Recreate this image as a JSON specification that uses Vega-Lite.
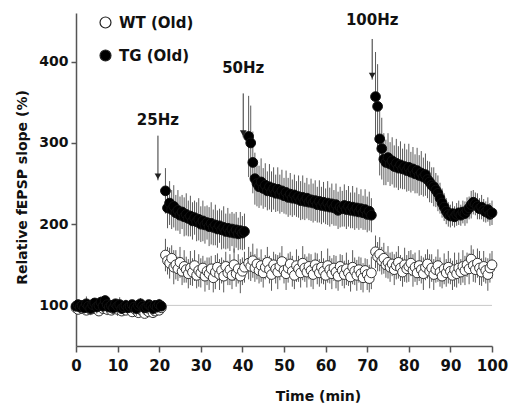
{
"$schema":"https://vega.github.io/schema/vega-lite/v6.json",
"width":416,"height":333,
"autosize":{"type":"none"},
"padding":{"left":76,"top":13,"right":21,"bottom":63},
"background":"white",
"config":{
"view":{"stroke":null},
"font":"DejaVu Sans",
"axis":{"grid":false,"domainColor":"#555","domainWidth":1.5,"tickColor":"#555","tickWidth":1.5,"tickSize":6,"labelFont":"DejaVu Sans","labelFontWeight":"bold","labelColor":"#111","labelOverlap":false,"labelFlush":false,"labelBound":false,"titleFont":"DejaVu Sans","titleFontWeight":"bold","titleFontSize":14,"titleColor":"#111"}
},
"datasets":{
"ltp":[
{"t":0,"w":97,"we":6,"g":99,"ge":7},
{"t":0.5,"w":95,"we":5,"g":101,"ge":6},
{"t":1,"w":98,"we":7,"g":98,"ge":8},
{"t":1.5,"w":96,"we":6,"g":100,"ge":5},
{"t":2,"w":99,"we":8,"g":97,"ge":7},
{"t":2.5,"w":94,"we":5,"g":102,"ge":9},
{"t":3,"w":97,"we":6,"g":99,"ge":6},
{"t":3.5,"w":95,"we":7,"g":96,"ge":7},
{"t":4,"w":98,"we":6,"g":101,"ge":7},
{"t":4.5,"w":96,"we":5,"g":103,"ge":6},
{"t":5,"w":97,"we":7,"g":98,"ge":8},
{"t":5.5,"w":93,"we":6,"g":100,"ge":5},
{"t":6,"w":99,"we":8,"g":104,"ge":7},
{"t":6.5,"w":96,"we":5,"g":99,"ge":9},
{"t":7,"w":98,"we":6,"g":106,"ge":6},
{"t":7.5,"w":95,"we":7,"g":101,"ge":7},
{"t":8,"w":97,"we":6,"g":98,"ge":7},
{"t":8.5,"w":94,"we":5,"g":100,"ge":6},
{"t":9,"w":96,"we":7,"g":97,"ge":8},
{"t":9.5,"w":98,"we":6,"g":102,"ge":5},
{"t":10,"w":95,"we":8,"g":99,"ge":7},
{"t":10.5,"w":97,"we":5,"g":101,"ge":9},
{"t":11,"w":93,"we":6,"g":96,"ge":6},
{"t":11.5,"w":96,"we":7,"g":98,"ge":7},
{"t":12,"w":94,"we":6,"g":100,"ge":7},
{"t":12.5,"w":97,"we":5,"g":97,"ge":6},
{"t":13,"w":95,"we":7,"g":99,"ge":8},
{"t":13.5,"w":92,"we":6,"g":101,"ge":5},
{"t":14,"w":96,"we":8,"g":98,"ge":7},
{"t":14.5,"w":94,"we":5,"g":96,"ge":9},
{"t":15,"w":91,"we":6,"g":100,"ge":6},
{"t":15.5,"w":95,"we":7,"g":102,"ge":7},
{"t":16,"w":93,"we":6,"g":99,"ge":7},
{"t":16.5,"w":90,"we":5,"g":97,"ge":6},
{"t":17,"w":94,"we":7,"g":98,"ge":8},
{"t":17.5,"w":92,"we":6,"g":101,"ge":5},
{"t":18,"w":95,"we":8,"g":99,"ge":7},
{"t":18.5,"w":91,"we":5,"g":96,"ge":9},
{"t":19,"w":93,"we":6,"g":100,"ge":6},
{"t":19.5,"w":96,"we":7,"g":98,"ge":7},
{"t":20,"w":94,"we":6,"g":101,"ge":7},
{"t":20.5,"w":97,"we":5,"g":99,"ge":6},
{"t":21.5,"w":162,"we":20,"g":241,"ge":28},
{"t":22,"w":155,"we":17,"g":220,"ge":25},
{"t":22.5,"w":152,"we":19,"g":226,"ge":27},
{"t":23,"w":158,"we":16,"g":218,"ge":24},
{"t":23.5,"w":147,"we":21,"g":222,"ge":26},
{"t":24,"w":150,"we":18,"g":214,"ge":22},
{"t":24.5,"w":145,"we":15,"g":217,"ge":25},
{"t":25,"w":153,"we":19,"g":211,"ge":23},
{"t":25.5,"w":142,"we":17,"g":215,"ge":21},
{"t":26,"w":148,"we":20,"g":209,"ge":24},
{"t":26.5,"w":144,"we":16,"g":212,"ge":26},
{"t":27,"w":139,"we":18,"g":207,"ge":22},
{"t":27.5,"w":146,"we":21,"g":210,"ge":25},
{"t":28,"w":141,"we":17,"g":204,"ge":23},
{"t":28.5,"w":149,"we":19,"g":208,"ge":21},
{"t":29,"w":137,"we":16,"g":203,"ge":24},
{"t":29.5,"w":143,"we":20,"g":206,"ge":26},
{"t":30,"w":140,"we":18,"g":200,"ge":22},
{"t":30.5,"w":146,"we":15,"g":204,"ge":25},
{"t":31,"w":136,"we":19,"g":199,"ge":23},
{"t":31.5,"w":142,"we":17,"g":202,"ge":21},
{"t":32,"w":139,"we":20,"g":197,"ge":24},
{"t":32.5,"w":145,"we":16,"g":201,"ge":26},
{"t":33,"w":134,"we":18,"g":196,"ge":22},
{"t":33.5,"w":141,"we":21,"g":199,"ge":25},
{"t":34,"w":147,"we":17,"g":194,"ge":23},
{"t":34.5,"w":138,"we":19,"g":198,"ge":21},
{"t":35,"w":143,"we":16,"g":193,"ge":24},
{"t":35.5,"w":136,"we":20,"g":196,"ge":26},
{"t":36,"w":148,"we":18,"g":191,"ge":22},
{"t":36.5,"w":140,"we":15,"g":195,"ge":25},
{"t":37,"w":144,"we":19,"g":190,"ge":23},
{"t":37.5,"w":137,"we":17,"g":194,"ge":21},
{"t":38,"w":150,"we":20,"g":189,"ge":24},
{"t":38.5,"w":139,"we":16,"g":193,"ge":22},
{"t":39,"w":145,"we":18,"g":188,"ge":20},
{"t":39.5,"w":136,"we":21,"g":192,"ge":23},
{"t":40,"w":142,"we":17,"g":189,"ge":21},
{"t":40.5,"w":147,"we":19,"g":191,"ge":22},
{"t":41.5,"w":152,"we":20,"g":308,"ge":50},
{"t":42,"w":148,"we":18,"g":300,"ge":46},
{"t":42.5,"w":155,"we":21,"g":276,"ge":38},
{"t":43,"w":146,"we":17,"g":256,"ge":32},
{"t":43.5,"w":151,"we":19,"g":250,"ge":28},
{"t":44,"w":143,"we":16,"g":246,"ge":26},
{"t":44.5,"w":149,"we":20,"g":252,"ge":29},
{"t":45,"w":140,"we":18,"g":244,"ge":25},
{"t":45.5,"w":147,"we":15,"g":248,"ge":27},
{"t":46,"w":153,"we":19,"g":241,"ge":24},
{"t":46.5,"w":144,"we":17,"g":246,"ge":28},
{"t":47,"w":138,"we":20,"g":240,"ge":25},
{"t":47.5,"w":150,"we":16,"g":244,"ge":26},
{"t":48,"w":145,"we":18,"g":238,"ge":23},
{"t":48.5,"w":141,"we":21,"g":243,"ge":27},
{"t":49,"w":148,"we":17,"g":237,"ge":24},
{"t":49.5,"w":154,"we":19,"g":241,"ge":26},
{"t":50,"w":143,"we":16,"g":235,"ge":22},
{"t":50.5,"w":139,"we":20,"g":239,"ge":27},
{"t":51,"w":146,"we":18,"g":233,"ge":24},
{"t":51.5,"w":151,"we":15,"g":237,"ge":26},
{"t":52,"w":142,"we":19,"g":232,"ge":23},
{"t":52.5,"w":137,"we":17,"g":236,"ge":25},
{"t":53,"w":149,"we":20,"g":231,"ge":22},
{"t":53.5,"w":145,"we":16,"g":234,"ge":26},
{"t":54,"w":140,"we":18,"g":229,"ge":24},
{"t":54.5,"w":152,"we":21,"g":233,"ge":27},
{"t":55,"w":146,"we":17,"g":228,"ge":23},
{"t":55.5,"w":141,"we":19,"g":232,"ge":25},
{"t":56,"w":148,"we":16,"g":227,"ge":22},
{"t":56.5,"w":143,"we":20,"g":230,"ge":26},
{"t":57,"w":138,"we":18,"g":226,"ge":24},
{"t":57.5,"w":150,"we":15,"g":229,"ge":25},
{"t":58,"w":145,"we":19,"g":224,"ge":22},
{"t":58.5,"w":140,"we":17,"g":228,"ge":26},
{"t":59,"w":147,"we":20,"g":223,"ge":23},
{"t":59.5,"w":142,"we":16,"g":227,"ge":25},
{"t":60,"w":137,"we":18,"g":222,"ge":22},
{"t":60.5,"w":149,"we":21,"g":226,"ge":27},
{"t":61,"w":144,"we":17,"g":221,"ge":24},
{"t":61.5,"w":139,"we":19,"g":225,"ge":25},
{"t":62,"w":146,"we":16,"g":220,"ge":22},
{"t":62.5,"w":141,"we":20,"g":224,"ge":26},
{"t":63,"w":136,"we":18,"g":217,"ge":23},
{"t":63.5,"w":148,"we":15,"g":221,"ge":25},
{"t":64,"w":143,"we":19,"g":219,"ge":22},
{"t":64.5,"w":138,"we":17,"g":223,"ge":26},
{"t":65,"w":145,"we":20,"g":218,"ge":24},
{"t":65.5,"w":140,"we":16,"g":222,"ge":25},
{"t":66,"w":135,"we":18,"g":217,"ge":22},
{"t":66.5,"w":147,"we":21,"g":221,"ge":26},
{"t":67,"w":142,"we":17,"g":216,"ge":23},
{"t":67.5,"w":137,"we":19,"g":220,"ge":25},
{"t":68,"w":144,"we":16,"g":215,"ge":22},
{"t":68.5,"w":139,"we":20,"g":219,"ge":24},
{"t":69,"w":134,"we":18,"g":214,"ge":21},
{"t":69.5,"w":143,"we":15,"g":218,"ge":25},
{"t":70,"w":138,"we":19,"g":212,"ge":22},
{"t":70.5,"w":133,"we":17,"g":216,"ge":24},
{"t":71,"w":140,"we":20,"g":211,"ge":21},
{"t":72,"w":166,"we":20,"g":357,"ge":55},
{"t":72.5,"w":160,"we":18,"g":345,"ge":52},
{"t":73,"w":163,"we":21,"g":305,"ge":45},
{"t":73.5,"w":155,"we":17,"g":293,"ge":38},
{"t":74,"w":158,"we":19,"g":280,"ge":32},
{"t":74.5,"w":150,"we":16,"g":276,"ge":28},
{"t":75,"w":153,"we":20,"g":282,"ge":30},
{"t":75.5,"w":147,"we":18,"g":274,"ge":27},
{"t":76,"w":151,"we":15,"g":278,"ge":29},
{"t":76.5,"w":144,"we":19,"g":271,"ge":26},
{"t":77,"w":149,"we":17,"g":275,"ge":30},
{"t":77.5,"w":153,"we":20,"g":269,"ge":27},
{"t":78,"w":146,"we":16,"g":273,"ge":29},
{"t":78.5,"w":141,"we":18,"g":268,"ge":25},
{"t":79,"w":150,"we":21,"g":271,"ge":28},
{"t":79.5,"w":145,"we":17,"g":266,"ge":26},
{"t":80,"w":148,"we":19,"g":270,"ge":29},
{"t":80.5,"w":152,"we":16,"g":264,"ge":25},
{"t":81,"w":143,"we":20,"g":268,"ge":27},
{"t":81.5,"w":147,"we":18,"g":262,"ge":24},
{"t":82,"w":140,"we":15,"g":266,"ge":28},
{"t":82.5,"w":149,"we":19,"g":260,"ge":25},
{"t":83,"w":144,"we":17,"g":263,"ge":27},
{"t":83.5,"w":139,"we":20,"g":258,"ge":24},
{"t":84,"w":147,"we":16,"g":261,"ge":26},
{"t":84.5,"w":151,"we":18,"g":255,"ge":23},
{"t":85,"w":142,"we":21,"g":252,"ge":25},
{"t":85.5,"w":146,"we":17,"g":248,"ge":22},
{"t":86,"w":138,"we":19,"g":246,"ge":24},
{"t":86.5,"w":144,"we":16,"g":242,"ge":21},
{"t":87,"w":149,"we":20,"g":238,"ge":22},
{"t":87.5,"w":141,"we":18,"g":232,"ge":19},
{"t":88,"w":136,"we":15,"g":226,"ge":18},
{"t":88.5,"w":145,"we":19,"g":221,"ge":17},
{"t":89,"w":140,"we":17,"g":216,"ge":16},
{"t":89.5,"w":147,"we":20,"g":212,"ge":15},
{"t":90,"w":142,"we":16,"g":210,"ge":14},
{"t":90.5,"w":137,"we":18,"g":213,"ge":15},
{"t":91,"w":144,"we":21,"g":209,"ge":13},
{"t":91.5,"w":139,"we":17,"g":212,"ge":14},
{"t":92,"w":146,"we":19,"g":214,"ge":15},
{"t":92.5,"w":141,"we":16,"g":211,"ge":13},
{"t":93,"w":148,"we":20,"g":215,"ge":14},
{"t":93.5,"w":143,"we":18,"g":213,"ge":15},
{"t":94,"w":150,"we":15,"g":217,"ge":16},
{"t":94.5,"w":145,"we":19,"g":220,"ge":14},
{"t":95,"w":157,"we":17,"g":224,"ge":17},
{"t":95.5,"w":149,"we":20,"g":227,"ge":15},
{"t":96,"w":144,"we":16,"g":225,"ge":14},
{"t":96.5,"w":152,"we":18,"g":222,"ge":16},
{"t":97,"w":146,"we":21,"g":219,"ge":13},
{"t":97.5,"w":141,"we":17,"g":221,"ge":15},
{"t":98,"w":148,"we":19,"g":217,"ge":14},
{"t":98.5,"w":143,"we":16,"g":215,"ge":13},
{"t":99,"w":138,"we":20,"g":218,"ge":15},
{"t":99.5,"w":146,"we":18,"g":212,"ge":14},
{"t":100,"w":150,"we":17,"g":214,"ge":15}
],
"stim":[
{"lab":"25Hz","t":19.7,"top":309,"tip":254,"ly":328},
{"lab":"50Hz","t":40.2,"top":361,"tip":307,"ly":392},
{"lab":"100Hz","t":71.2,"top":428,"tip":378,"ly":451}
],
"base":[{"v":100}]
},
"layer":[
{"data":{"name":"base"},"mark":{"type":"rule","color":"#c8c8c8","strokeWidth":1},
 "encoding":{"y":{"field":"v","type":"quantitative","scale":{"domain":[50,460],"nice":false,"zero":false},
  "axis":{"values":[100,200,300,400],"tickSize":5,"labelPadding":3,"labelFontSize":14,"titleX":-54,"titleY":174,"titleBaseline":"middle"},"title":"Relative fEPSP slope (%)"}}},
{"data":{"name":"ltp"},"mark":{"type":"errorbar","color":"#5a5a5a","thickness":1},
 "encoding":{"x":{"field":"t","type":"quantitative","scale":{"domain":[0,100],"nice":false},
   "axis":{"values":[0,10,20,30,40,50,60,70,80,90,100],"labelPadding":6,"labelFontSize":15,"titleX":242,"titleY":54,"titleBaseline":"alphabetic"},"title":"Time (min)"},
  "y":{"field":"w","type":"quantitative","title":"Relative fEPSP slope (%)"},"yError":{"field":"we"}}},
{"data":{"name":"ltp"},"mark":{"type":"point","filled":true,"size":95,"stroke":"#333","strokeWidth":1,"opacity":1},
 "encoding":{"x":{"field":"t","type":"quantitative","title":"Time (min)"},
  "y":{"field":"w","type":"quantitative","title":"Relative fEPSP slope (%)"},
  "fill":{"datum":"WT (Old)","type":"nominal","scale":{"domain":["WT (Old)","TG (Old)"],"range":["white","black"]},
   "legend":{"title":null,"orient":"none","legendX":22,"legendY":2,"symbolType":"circle","symbolSize":120,"symbolStrokeColor":"#222","symbolStrokeWidth":1.2,"labelFontSize":15,"labelFontWeight":"bold","labelFont":"DejaVu Sans","labelColor":"#111","rowPadding":16,"labelOffset":6}}}},
{"data":{"name":"ltp"},"mark":{"type":"errorbar","color":"#5a5a5a","thickness":1},
 "encoding":{"x":{"field":"t","type":"quantitative","title":"Time (min)"},
  "y":{"field":"g","type":"quantitative","title":"Relative fEPSP slope (%)"},"yError":{"field":"ge"}}},
{"data":{"name":"ltp"},"mark":{"type":"point","filled":true,"size":95,"stroke":"#111","strokeWidth":1,"opacity":1},
 "encoding":{"x":{"field":"t","type":"quantitative","title":"Time (min)"},
  "y":{"field":"g","type":"quantitative","title":"Relative fEPSP slope (%)"},
  "fill":{"datum":"TG (Old)","type":"nominal"}}},
{"data":{"name":"stim"},"mark":{"type":"rule","color":"#333","strokeWidth":1},
 "encoding":{"x":{"field":"t","type":"quantitative"},"y":{"field":"top","type":"quantitative"},"y2":{"field":"tip"}}},
{"data":{"name":"stim"},"mark":{"type":"point","shape":"triangle-down","filled":true,"size":45,"color":"#222","opacity":1,"yOffset":-4},
 "encoding":{"x":{"field":"t","type":"quantitative"},"y":{"field":"tip","type":"quantitative"}}},
{"data":{"name":"stim"},"mark":{"type":"text","font":"DejaVu Sans","fontWeight":"bold","fontSize":15,"color":"#111","baseline":"middle","align":"center"},
 "encoding":{"x":{"field":"t","type":"quantitative"},"y":{"field":"ly","type":"quantitative"},"text":{"field":"lab"}}}
]
}
